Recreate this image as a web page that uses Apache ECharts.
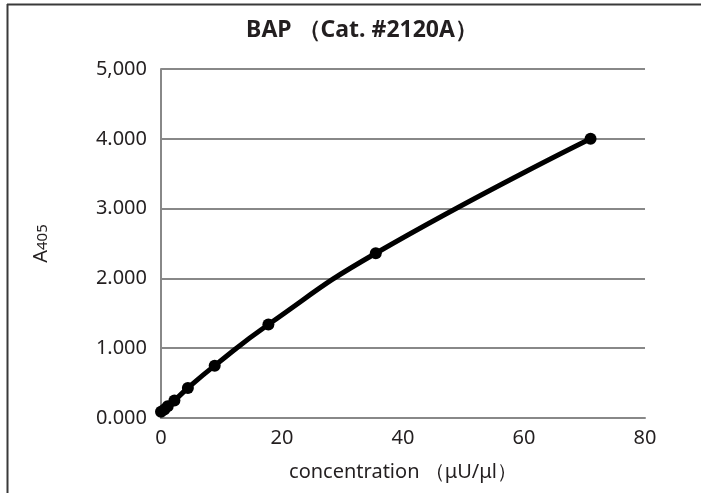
<!DOCTYPE html>
<html>
<head>
<meta charset="utf-8">
<script src="https://cdn.jsdelivr.net/npm/echarts@6/dist/echarts.min.js"></script>
<style>
html,body{margin:0;padding:0;background:#fff;}
#chart{width:701px;height:493px;}
</style>
</head>
<body>
<div id="chart"></div>
<script>
const concentration = [0, 0.55, 1.11, 2.22, 4.44, 8.875, 17.75, 35.5, 71];
const absorbance = [0.09, 0.12, 0.17, 0.25, 0.43, 0.75, 1.34, 2.36, 4.0];
const yTickLabels = ['0.000', '1.000', '2.000', '3.000', '4.000', '5,000'];
const xTicks = [0, 20, 40, 60, 80];

const FONT = '"Noto Sans", sans-serif';
const TXT = '#231f20';
const chart = echarts.init(document.getElementById('chart'), null, {renderer: 'canvas'});
chart.setOption({
  animation: false,
  backgroundColor: '#fff',
  title: {
    text: 'BAP （Cat. #2120A）',
    left: 357, top: 14, textAlign: 'center',
    textStyle: {fontFamily: FONT, fontWeight: 'bold', fontSize: 23, color: TXT}
  },
  grid: {left: 161, right: 56, top: 69, bottom: 75},
  graphic: [
    {type: 'line', shape: {x1: 7, y1: 4.5, x2: 701, y2: 4.5}, style: {stroke: '#3a3a3a', lineWidth: 2}},
    {type: 'line', shape: {x1: 7.5, y1: 4, x2: 7.5, y2: 493}, style: {stroke: '#3a3a3a', lineWidth: 2}}
  ],
  xAxis: {
    type: 'value', min: xTicks[0], max: xTicks[xTicks.length - 1], interval: 20,
    name: 'concentration （μU/μl）', nameLocation: 'middle', nameGap: 44,
    nameTextStyle: {fontFamily: FONT, fontSize: 20, color: TXT},
    axisLine: {show: true, lineStyle: {color: '#888', width: 2}},
    axisTick: {show: false},
    splitLine: {show: false},
    axisLabel: {fontFamily: FONT, fontSize: 20, color: TXT, margin: 10}
  },
  yAxis: {
    type: 'value', min: 0, max: 5, interval: 1,
    name: '{a|A}{s|405}', nameLocation: 'middle', nameGap: 110, nameRotate: 90,
    nameTextStyle: {rich: {a: {fontFamily: FONT, fontSize: 20, color: TXT}, s: {fontFamily: FONT, fontSize: 15, color: TXT, padding: [4, 0, 0, 0]}}},
    axisLine: {show: true, lineStyle: {color: '#888', width: 2}},
    axisTick: {show: false},
    splitLine: {show: true, lineStyle: {color: '#888', width: 2}},
    axisLabel: {fontFamily: FONT, fontSize: 20, color: TXT, margin: 14,
      formatter: function (v) { return yTickLabels[Math.round(v)]; }}
  },
  series: [{
    type: 'line',
    data: concentration.map((c, i) => [c, absorbance[i]]),
    smooth: true,
    symbol: 'circle', symbolSize: 12,
    lineStyle: {color: '#000', width: 5},
    itemStyle: {color: '#000'}
  }]
});
</script>
</body>
</html>
